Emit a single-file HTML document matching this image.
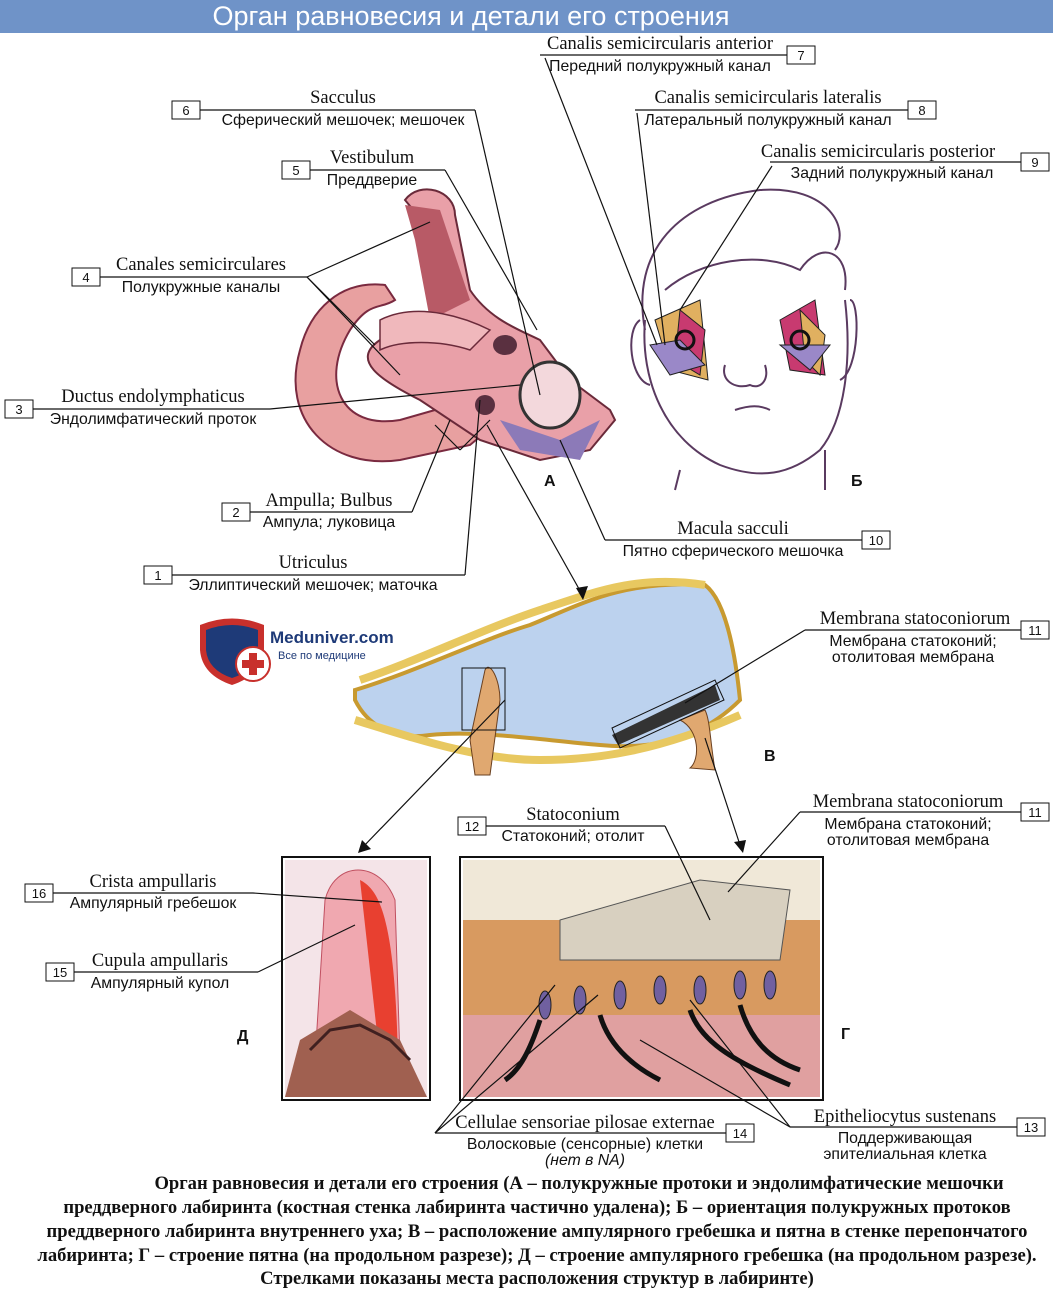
<!DOCTYPE html>
<html><head><meta charset="utf-8"><style>
html,body{margin:0;padding:0;background:#fff}
svg{display:block}
.s{font-family:"Liberation Serif",serif;font-size:18.5px;fill:#111}
.r{font-family:"Liberation Sans",sans-serif;font-size:15.8px;fill:#111}
.n{font-family:"Liberation Sans",sans-serif;font-size:13px;fill:#111}
.c{font-family:"Liberation Serif",serif;font-size:18.6px;font-weight:bold;fill:#111}
.L{font-family:"Liberation Sans",sans-serif;font-size:16px;font-weight:bold;fill:#111}
</style></head><body>
<svg width="1053" height="1293" viewBox="0 0 1053 1293" xmlns="http://www.w3.org/2000/svg">
<rect x="0" y="0" width="1053" height="33" fill="#6f93c8"/>
<text x="471" y="25" text-anchor="middle" font-family="Liberation Sans,sans-serif" font-size="27" fill="#fff">Орган равновесия и детали его строения</text>

<!-- A: inner ear -->
<g>
<path d="M300,350 C280,420 330,470 400,460 L470,445 L500,420 L470,400 L400,420 C340,430 320,380 350,330 C370,300 380,310 395,300 L385,285 C340,280 310,310 300,350Z" fill="#e8a0a0" stroke="#7a2a40" stroke-width="2"/>
<path d="M405,200 C420,180 455,190 455,215 L470,290 C490,320 520,330 540,340 L570,380 L610,410 L615,420 L590,450 L540,460 L480,440 L420,400 C380,380 350,360 380,340 L440,330 L430,230Z" fill="#e9a0a8" stroke="#6a2a3a" stroke-width="2"/>
<path d="M405,205 L440,210 L470,300 L430,320 L415,240Z" fill="#b85a66"/>
<ellipse cx="550" cy="395" rx="30" ry="33" fill="#f3d8dc" stroke="#333" stroke-width="3"/>
<path d="M500,420 L560,440 L600,420 L580,460 L520,450Z" fill="#8c7ab8"/>
<ellipse cx="505" cy="345" rx="12" ry="10" fill="#5a3040"/>
<ellipse cx="485" cy="405" rx="10" ry="10" fill="#5a3040"/>
<path d="M380,320 C420,300 470,320 490,330 L470,350 C440,340 400,340 380,350Z" fill="#f0b8bc" stroke="#6a2a3a" stroke-width="1.5"/>
</g>
<text class="L" x="544" y="486">А</text>

<!-- Б: face -->
<g fill="none" stroke="#5a3a60" stroke-width="2">
<path d="M645,330 C630,250 680,200 760,190 C830,185 850,230 835,250"/>
<path d="M665,290 C700,260 760,250 800,270 C820,240 850,250 845,290"/>
<path d="M645,320 C640,380 665,440 720,465 C760,480 790,475 820,450 C845,420 852,360 845,300"/>
<path d="M640,320 C625,330 630,380 650,385"/>
<path d="M850,300 C860,300 860,370 840,380"/>
<path d="M725,365 C720,380 735,390 750,385 C760,390 770,380 765,365"/>
<path d="M735,410 C750,405 760,405 770,410"/>
<path d="M680,470 L675,490 M825,450 L825,490"/>
</g>
<g>
<polygon points="655,320 700,300 708,380 670,370" fill="#e0b060" stroke="#222"/>
<polygon points="680,310 705,330 700,375 675,360" fill="#c83a70" stroke="#222"/>
<polygon points="650,345 680,340 705,365 670,375" fill="#9a88c8" stroke="#222"/>
<polygon points="780,320 815,300 825,375 790,370" fill="#c83a70" stroke="#222"/>
<polygon points="800,310 825,335 820,375 805,360" fill="#e0b060" stroke="#222"/>
<polygon points="780,345 830,345 810,370" fill="#9a88c8" stroke="#222"/>
<circle cx="685" cy="340" r="9" fill="none" stroke="#111" stroke-width="3"/>
<circle cx="800" cy="340" r="9" fill="none" stroke="#111" stroke-width="3"/>
</g>
<text class="L" x="851" y="486">Б</text>

<!-- В: membrane strip -->
<g>
<path d="M355,690 C420,670 480,640 530,625 C580,605 620,580 705,585 C725,600 735,650 740,700 C700,740 650,750 600,745 C540,740 480,730 430,735 C400,740 370,730 355,700Z" fill="#bcd2ee" stroke="#c89a30" stroke-width="4"/>
<path d="M360,680 C420,660 480,630 540,610 C600,590 640,575 705,585" fill="none" stroke="#e8c860" stroke-width="8"/>
<path d="M355,720 C420,740 480,760 540,760 C600,760 660,750 740,715" fill="none" stroke="#e8c860" stroke-width="8"/>
<path d="M470,740 L485,670 C490,660 500,680 500,700 L490,775 L475,775Z" fill="#e0a870" stroke="#6a4020"/>
<polygon points="612,735 715,685 720,700 618,745" fill="#333"/>
<path d="M680,720 C700,730 700,760 690,768 L715,770 C710,740 710,720 705,710Z" fill="#e0a870" stroke="#6a4020"/>
<rect x="462" y="668" width="43" height="62" fill="none" stroke="#111"/>
<polygon points="612,728 715,680 724,700 620,748" fill="none" stroke="#111"/>
</g>
<text class="L" x="764" y="761">В</text>

<!-- Meduniver logo -->
<g>
<path d="M200,625 Q232,612 264,625 L264,650 Q262,675 232,685 Q202,675 200,650Z" fill="#c8302c"/>
<path d="M206,630 Q232,620 258,630 L258,650 Q256,670 232,678 Q208,670 206,650Z" fill="#1e3a78"/>
<circle cx="253" cy="664" r="17" fill="#fff" stroke="#c8302c" stroke-width="2"/>
<rect x="249" y="653" width="8" height="22" fill="#c8302c"/><rect x="242" y="660" width="22" height="8" fill="#c8302c"/>
<text x="270" y="643" font-family="Liberation Sans,sans-serif" font-weight="bold" font-size="17" fill="#1e3a78">Meduniver.com</text>
<text x="278" y="659" font-family="Liberation Sans,sans-serif" font-size="11" fill="#1e3a78">Все по медицине</text>
</g>

<!-- Д box -->
<rect x="282" y="857" width="148" height="243" fill="#fff" stroke="#111" stroke-width="2"/>
<rect x="285" y="860" width="142" height="237" fill="#f4e4e8"/>
<path d="M315,1060 L325,900 C335,860 380,860 395,900 L400,1060Z" fill="#f0a8b0" stroke="#c05060"/>
<path d="M360,880 C380,890 395,920 398,1060 L380,1060Z" fill="#e84030"/>
<path d="M285,1097 L300,1040 L350,1010 L400,1040 L427,1097Z" fill="#a06050"/>
<path d="M310,1050 L330,1030 L360,1025 L390,1040 L410,1060" fill="none" stroke="#402020" stroke-width="3"/>
<text class="L" x="237" y="1041">Д</text>

<!-- Г box -->
<rect x="460" y="857" width="363" height="243" fill="#fff" stroke="#111" stroke-width="2"/>
<rect x="463" y="860" width="357" height="237" fill="#f0e8d8"/>
<rect x="463" y="920" width="357" height="95" fill="#d89a60"/>
<path d="M560,920 L700,880 L790,890 L780,960 L560,960Z" fill="#d8d0c0" stroke="#555"/>
<rect x="463" y="1015" width="357" height="82" fill="#e0a0a0"/>
<g fill="#7060a0" stroke="#222">
<ellipse cx="580" cy="1000" rx="6" ry="14"/><ellipse cx="620" cy="995" rx="6" ry="14"/><ellipse cx="660" cy="990" rx="6" ry="14"/><ellipse cx="700" cy="990" rx="6" ry="14"/><ellipse cx="740" cy="985" rx="6" ry="14"/><ellipse cx="770" cy="985" rx="6" ry="14"/><ellipse cx="545" cy="1005" rx="6" ry="14"/>
</g>
<g stroke="#111" stroke-width="5" fill="none">
<path d="M540,1020 C530,1050 520,1070 505,1080"/><path d="M600,1015 C610,1050 640,1070 660,1080"/><path d="M690,1010 C700,1040 730,1060 790,1085"/><path d="M740,1005 C750,1040 770,1060 800,1070"/>
</g>
<text class="L" x="841" y="1039">Г</text>

<!-- connector lines -->
<g stroke="#111" stroke-width="1.2" fill="none">
<line x1="540" y1="55" x2="787" y2="55"/><line x1="545" y1="58" x2="657" y2="345"/>
<line x1="635" y1="110" x2="908" y2="110"/><line x1="637" y1="113" x2="665" y2="345"/>
<line x1="770" y1="162" x2="1021" y2="162"/><line x1="772" y1="166" x2="680" y2="310"/>
<line x1="200" y1="110" x2="475" y2="110"/><line x1="475" y1="110" x2="540" y2="395"/>
<line x1="310" y1="170" x2="445" y2="170"/><line x1="445" y1="170" x2="537" y2="330"/>
<line x1="100" y1="277" x2="307" y2="277"/><line x1="307" y1="277" x2="430" y2="222"/><line x1="307" y1="277" x2="375" y2="345"/><line x1="307" y1="277" x2="400" y2="375"/>
<line x1="33" y1="409" x2="270" y2="409"/><line x1="270" y1="409" x2="520" y2="385"/>
<line x1="250" y1="512" x2="412" y2="512"/><line x1="412" y1="512" x2="450" y2="420"/><line x1="435" y1="425" x2="460" y2="450"/><line x1="460" y1="450" x2="490" y2="420"/>
<line x1="172" y1="575" x2="465" y2="575"/><line x1="465" y1="575" x2="480" y2="400"/>
<line x1="605" y1="540" x2="862" y2="540"/><line x1="605" y1="540" x2="560" y2="440"/>
<line x1="487" y1="425" x2="583" y2="596"/>
<line x1="805" y1="630" x2="1021" y2="630"/><line x1="805" y1="630" x2="685" y2="703"/>
<line x1="505" y1="700" x2="362" y2="848"/>
<line x1="705" y1="738" x2="741" y2="848"/>
<line x1="486" y1="826" x2="665" y2="826"/><line x1="665" y1="826" x2="710" y2="920"/>
<line x1="800" y1="812" x2="1021" y2="812"/><line x1="800" y1="812" x2="728" y2="892"/>
<line x1="53" y1="893" x2="253" y2="893"/><line x1="253" y1="893" x2="382" y2="902"/>
<line x1="74" y1="972" x2="258" y2="972"/><line x1="258" y1="972" x2="355" y2="925"/>
<line x1="435" y1="1133" x2="726" y2="1133"/><line x1="435" y1="1133" x2="555" y2="985"/><line x1="435" y1="1133" x2="598" y2="995"/>
<line x1="790" y1="1127" x2="1017" y2="1127"/><line x1="790" y1="1127" x2="690" y2="1000"/><line x1="790" y1="1127" x2="640" y2="1040"/>
</g>
<g fill="#111">
<polygon points="583,600 576,588 588,586"/>
<polygon points="358,853 362,840 371,849"/>
<polygon points="743,853 734,842 746,840"/>
</g>

<!-- number boxes -->
<g fill="#fff" stroke="#111" stroke-width="1">
<rect x="787" y="46" width="28" height="18"/><rect x="908" y="101" width="28" height="18"/><rect x="1021" y="153" width="28" height="18"/>
<rect x="172" y="101" width="28" height="18"/><rect x="282" y="161" width="28" height="18"/><rect x="72" y="268" width="28" height="18"/>
<rect x="5" y="400" width="28" height="18"/><rect x="222" y="503" width="28" height="18"/><rect x="144" y="566" width="28" height="18"/>
<rect x="862" y="531" width="28" height="18"/><rect x="1021" y="621" width="28" height="18"/><rect x="1021" y="803" width="28" height="18"/>
<rect x="458" y="817" width="28" height="18"/><rect x="25" y="884" width="28" height="18"/><rect x="46" y="963" width="28" height="18"/>
<rect x="726" y="1124" width="28" height="18"/><rect x="1017" y="1118" width="28" height="18"/>
</g>
<g class="n" text-anchor="middle">
<text x="801" y="60">7</text><text x="922" y="115">8</text><text x="1035" y="167">9</text>
<text x="186" y="115">6</text><text x="296" y="175">5</text><text x="86" y="282">4</text>
<text x="19" y="414">3</text><text x="236" y="517">2</text><text x="158" y="580">1</text>
<text x="876" y="545">10</text><text x="1035" y="635">11</text><text x="1035" y="817">11</text>
<text x="472" y="831">12</text><text x="39" y="898">16</text><text x="60" y="977">15</text>
<text x="740" y="1138">14</text><text x="1031" y="1132">13</text>
</g>

<!-- labels -->
<g text-anchor="middle">
<text class="s" x="660" y="49">Canalis semicircularis anterior</text><text class="r" x="660" y="71">Передний полукружный канал</text>
<text class="s" x="768" y="103">Canalis semicircularis lateralis</text><text class="r" x="768" y="125">Латеральный полукружный канал</text>
<text class="s" x="878" y="157">Canalis semicircularis posterior</text><text class="r" x="892" y="178">Задний полукружный канал</text>
<text class="s" x="343" y="103">Sacculus</text><text class="r" x="343" y="125">Сферический мешочек; мешочек</text>
<text class="s" x="372" y="163">Vestibulum</text><text class="r" x="372" y="185">Преддверие</text>
<text class="s" x="201" y="270">Canales semicirculares</text><text class="r" x="201" y="292">Полукружные каналы</text>
<text class="s" x="153" y="402">Ductus endolymphaticus</text><text class="r" x="153" y="424">Эндолимфатический проток</text>
<text class="s" x="329" y="506">Ampulla; Bulbus</text><text class="r" x="329" y="527">Ампула; луковица</text>
<text class="s" x="313" y="568">Utriculus</text><text class="r" x="313" y="590">Эллиптический мешочек; маточка</text>
<text class="s" x="733" y="534">Macula sacculi</text><text class="r" x="733" y="556">Пятно сферического мешочка</text>
<text class="s" x="915" y="624">Membrana statoconiorum</text><text class="r" x="913" y="646">Мембрана статоконий;</text><text class="r" x="913" y="662">отолитовая мембрана</text>
<text class="s" x="908" y="807">Membrana statoconiorum</text><text class="r" x="908" y="829">Мембрана статоконий;</text><text class="r" x="908" y="845">отолитовая мембрана</text>
<text class="s" x="573" y="820">Statoconium</text><text class="r" x="573" y="841">Статоконий; отолит</text>
<text class="s" x="153" y="887">Crista ampullaris</text><text class="r" x="153" y="908">Ампулярный гребешок</text>
<text class="s" x="160" y="966">Cupula ampullaris</text><text class="r" x="160" y="988">Ампулярный купол</text>
<text class="s" x="585" y="1128">Cellulae sensoriae pilosae externae</text><text class="r" x="585" y="1149">Волосковые (сенсорные) клетки</text><text class="r" x="585" y="1165" font-style="italic">(нет в NA)</text>
<text class="s" x="905" y="1122">Epitheliocytus sustenans</text><text class="r" x="905" y="1143">Поддерживающая</text><text class="r" x="905" y="1159">эпителиальная клетка</text>
</g>

<!-- caption -->
<g class="c" text-anchor="middle">
<text x="579" y="1189">Орган равновесия и детали его строения (А – полукружные протоки и эндолимфатические мешочки</text>
<text x="537" y="1213">преддверного лабиринта (костная стенка лабиринта частично удалена); Б – ориентация полукружных протоков</text>
<text x="537" y="1237">преддверного лабиринта внутреннего уха; В – расположение ампулярного гребешка и пятна в стенке перепончатого</text>
<text x="537" y="1261">лабиринта; Г – строение пятна (на продольном разрезе); Д – строение ампулярного гребешка (на продольном разрезе).</text>
<text x="537" y="1284">Стрелками показаны места расположения структур в лабиринте)</text>
</g>
</svg>
</body></html>
